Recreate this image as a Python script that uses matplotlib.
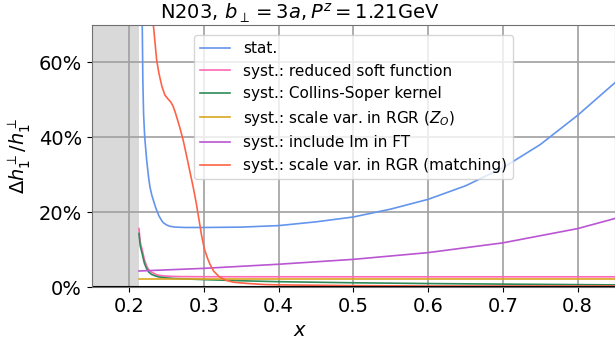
import numpy as np
import matplotlib.pyplot as plt
from matplotlib.ticker import PercentFormatter

# relative uncertainties of h1perp vs x
x_cut = 0.2133

x_stat = [0.2133, 0.2160, 0.2177, 0.2185, 0.2195, 0.2210, 0.2236, 0.226, 0.228, 0.2305,
          0.2325, 0.236, 0.240, 0.2435, 0.2457, 0.250, 0.255, 0.262, 0.275, 0.30,
          0.35, 0.40, 0.45, 0.50, 0.55, 0.60, 0.65, 0.70, 0.75, 0.80, 0.85]
y_stat = [1.00, 0.80, 0.70, 0.55, 0.46, 0.40, 0.339, 0.295, 0.267, 0.245,
          0.232, 0.210, 0.190, 0.178, 0.172, 0.166, 0.162, 0.160, 0.159, 0.159,
          0.160, 0.164, 0.174, 0.187, 0.208, 0.234, 0.270, 0.318, 0.380, 0.458, 0.545]

x_soft = [0.2133, 0.215, 0.2177, 0.2205, 0.2236, 0.2265, 0.230, 0.237, 0.245, 0.255,
          0.27, 0.30, 0.40, 0.60, 0.85]
y_soft = [0.156, 0.12, 0.099, 0.074, 0.056, 0.046, 0.040, 0.033, 0.030, 0.0288,
          0.028, 0.0277, 0.0276, 0.0275, 0.0275]

x_cs = [0.2133, 0.215, 0.2177, 0.2205, 0.2236, 0.2265, 0.23, 0.235, 0.24, 0.25,
        0.26, 0.28, 0.30, 0.35, 0.40, 0.50, 0.60, 0.70, 0.85]
y_cs = [0.143, 0.11, 0.088, 0.064, 0.049, 0.040, 0.034, 0.030, 0.027, 0.0245,
        0.023, 0.0215, 0.020, 0.017, 0.0145, 0.0116, 0.0095, 0.008, 0.006]

x_zo = [0.2133, 0.85]
y_zo = [0.021, 0.021]

x_im = [0.2133, 0.30, 0.40, 0.50, 0.60, 0.70, 0.80, 0.85]
y_im = [0.043, 0.050, 0.061, 0.074, 0.092, 0.118, 0.156, 0.183]

x_match = [0.2133, 0.225, 0.2325, 0.237, 0.240, 0.244, 0.248, 0.252, 0.256, 0.259,
           0.262, 0.265, 0.268, 0.2724, 0.277, 0.281, 0.286, 0.290, 0.294, 0.297,
           0.301, 0.305, 0.308, 0.313, 0.321, 0.330, 0.340, 0.357, 0.38, 0.40,
           0.50, 0.60, 0.70, 0.85]
y_match = [1.10, 0.83, 0.70, 0.605, 0.57, 0.535, 0.512, 0.502, 0.493, 0.482,
           0.465, 0.445, 0.425, 0.392, 0.350, 0.312, 0.265, 0.223, 0.175, 0.138,
           0.100, 0.077, 0.062, 0.043, 0.027, 0.018, 0.013, 0.010, 0.007, 0.006,
           0.004, 0.003, 0.003, 0.003]

fig = plt.figure(figsize=(6.15, 3.41), dpi=100)
ax = fig.add_axes([0.149, 0.158, 0.851, 0.77])

ax.axvspan(0.15, x_cut, color="#d9d9d9", lw=0)

lw = 1.2
ax.plot(x_stat, y_stat, color="#6495ED", lw=lw, label="stat.")
ax.plot(x_soft, y_soft, color="#FF69B4", lw=lw, label="syst.: reduced soft function")
ax.plot(x_cs, y_cs, color="#2E8B57", lw=lw, label="syst.: Collins-Soper kernel")
ax.plot(x_zo, y_zo, color="#DAA520", lw=lw, label=r"syst.: scale var. in RGR ($Z_O$)")
ax.plot(x_im, y_im, color="#BA55D3", lw=lw, label="syst.: include Im in FT")
ax.plot(x_match, y_match, color="#FF6347", lw=lw, label="syst.: scale var. in RGR (matching)")

ax.axhline(0, color="black", linewidth=1.5)

ax.set_xlim(0.15, 0.85)
ax.set_ylim(0, 0.7)
ax.set_xticks([0.2, 0.3, 0.4, 0.5, 0.6, 0.7, 0.8])
ax.set_yticks([0, 0.2, 0.4, 0.6])
ax.yaxis.set_major_formatter(PercentFormatter(1.0, decimals=0))
ax.tick_params(labelsize=14)
ax.grid(color="#a0a0a0", linewidth=1.2)
for s in ax.spines.values():
    s.set_color("#707070")

ax.set_xlabel("$x$", fontsize=14, x=0.398)
ax.set_ylabel(r"$\Delta h_1^\perp / h_1^\perp$", fontsize=14)
ax.set_title(r"N203, $b_\perp = 3a, P^z = $1.21GeV", fontsize=14, x=0.398, pad=2)

ax.legend(loc="upper center", fontsize=11, bbox_to_anchor=(0.5, 0.99))

fig.savefig("out.png", dpi=100)
